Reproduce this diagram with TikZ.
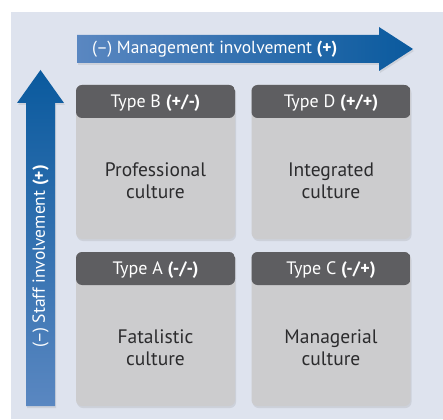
\documentclass[tikz,border=0pt]{standalone}
\usepackage{fontspec}
\setmainfont{PT Sans}
\usetikzlibrary{shadows,positioning}

\definecolor{panelbg}{HTML}{DEE3EE}
\definecolor{arrowdark}{HTML}{0A5A9E}
\definecolor{arrowmid}{HTML}{1B63A5}
\definecolor{arrowlight}{HTML}{5A87C1}
\definecolor{headgray}{HTML}{5E5E61}
\definecolor{cellgray}{HTML}{CCCCCE}
\definecolor{textdark}{HTML}{2B2B2D}

\tikzset{
  cell/.style={rounded corners=6pt, fill=cellgray, minimum width=159pt, minimum height=154pt, inner sep=0pt,
    drop shadow={opacity=0.18, shadow xshift=1pt, shadow yshift=-2pt},
    path picture={\fill[headgray] (path picture bounding box.north west) rectangle ([yshift=-33pt]path picture bounding box.north east);}},
  headtext/.style={text=white, inner sep=0pt, font=\fontsize{18}{20}\selectfont},
  bodytext/.style={text=textdark, align=center, inner sep=0pt, font=\fontsize{19.5}{22}\selectfont},
  axistext/.style={text=white, inner sep=0pt, font=\fontsize{17.5}{20}\selectfont},
  axisarrow/.style={drop shadow={opacity=0.18, shadow xshift=1pt, shadow yshift=-2pt}}
}

\begin{document}
\begin{tikzpicture}[x=1pt,y=-1pt]
    \useasboundingbox (0,0) rectangle (443,419);
    \fill[panelbg] (11,12) rectangle (443,419);

    \shade[axisarrow, left color=arrowlight, middle color=arrowmid, right color=arrowdark]
        (77,35) -- (379,35) -- (379,27) -- (413,49) -- (379,71) -- (379,63) -- (77,63) -- cycle;
    \shade[axisarrow, bottom color=arrowlight, middle color=arrowmid, top color=arrowdark]
        (26,406) -- (26,103) -- (17,103) -- (40.5,70) -- (64,103) -- (55,103) -- (55,406) -- cycle;
    \node[axistext, anchor=west] (mgmt) at (92,49) {(–) Management involvement \textbf{(+)}};
    \node[axistext, rotate=90, anchor=west] (staff) at (40.5,348) {(–) Staff involvement \textbf{(+)}};

    \node[cell] (typeB) at (155.5,162) {};
    \node[cell] (typeD) at (331,162) {};
    \node[cell] (typeA) at (155.5,329) {};
    \node[cell] (typeC) at (331,329) {};

    \node[headtext] (typeBhead) at ([yshift=-18pt]typeB.north) {Type B \textbf{(+/-)}};
    \node[headtext] (typeDhead) at ([yshift=-18pt]typeD.north) {Type D \textbf{(+/+)}};
    \node[headtext] (typeAhead) at ([yshift=-18pt]typeA.north) {Type A \textbf{(-/-)}};
    \node[headtext] (typeChead) at ([yshift=-18pt]typeC.north) {Type C \textbf{(-/+)}};

    \node[bodytext] (typeBtext) at ([yshift=-19pt]typeB.center) {Professional\\culture};
    \node[bodytext] (typeDtext) at ([yshift=-19pt]typeD.center) {Integrated\\culture};
    \node[bodytext] (typeAtext) at ([yshift=-19pt]typeA.center) {Fatalistic\\culture};
    \node[bodytext] (typeCtext) at ([yshift=-19pt]typeC.center) {Managerial\\culture};
\end{tikzpicture}
\end{document}
